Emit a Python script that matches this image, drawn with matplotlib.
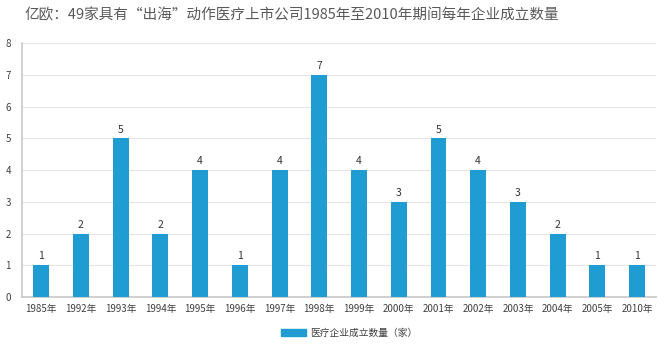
import matplotlib.pyplot as plt
from matplotlib.patches import Patch

plt.rcParams['font.family'] = ['Noto Sans CJK SC', 'DejaVu Sans']

# data
years = ['1985年', '1992年', '1993年', '1994年', '1995年', '1996年', '1997年', '1998年',
         '1999年', '2000年', '2001年', '2002年', '2003年', '2004年', '2005年', '2010年']
counts = [1, 2, 5, 2, 4, 1, 4, 7, 4, 3, 5, 4, 3, 2, 1, 1]

bar_color = '#1F9DD3'

fig = plt.figure(figsize=(6.71, 3.45), dpi=100)
ax = fig.add_axes([0.033, 0.139, 0.945, 0.736])

x = range(len(years))
bars = ax.bar(x, counts, width=0.4, color=bar_color, zorder=3)

for i, v in enumerate(counts):
    ax.text(i, v + 0.12, str(v), ha='center', va='bottom', fontsize=7.5, color='#333333')

ax.set_xlim(-0.48, len(years) - 0.52)
ax.set_ylim(0, 8)
ax.set_yticks(range(0, 9))
ax.set_xticks(list(x))
ax.set_xticklabels(years)
ax.tick_params(axis='both', length=0, labelsize=7, colors='#404040')
ax.tick_params(axis='x', pad=5)
ax.tick_params(axis='y', pad=8)

ax.grid(axis='y', color='#E6E6E6', linewidth=0.8, zorder=0)
for s in ['top', 'right']:
    ax.spines[s].set_visible(False)
ax.spines['left'].set_color('#C8C8C8')
ax.spines['bottom'].set_color('#C8C8C8')
ax.spines['left'].set_linewidth(1.2)
ax.spines['bottom'].set_linewidth(1.2)

fig.text(0.037, 0.955, '亿欧：49家具有“出海”动作医疗上市公司1985年至2010年期间每年企业成立数量',
         fontsize=10.5, color='#595959', ha='left', va='center')

fig.legend(handles=[Patch(color=bar_color, label='医疗企业成立数量（家）')],
           loc='center', bbox_to_anchor=(0.52, 0.035), frameon=False, fontsize=7,
           handlelength=2.6, handleheight=0.7, handletextpad=0.4, labelcolor='#404040')

fig.savefig('out.png', dpi=100)
